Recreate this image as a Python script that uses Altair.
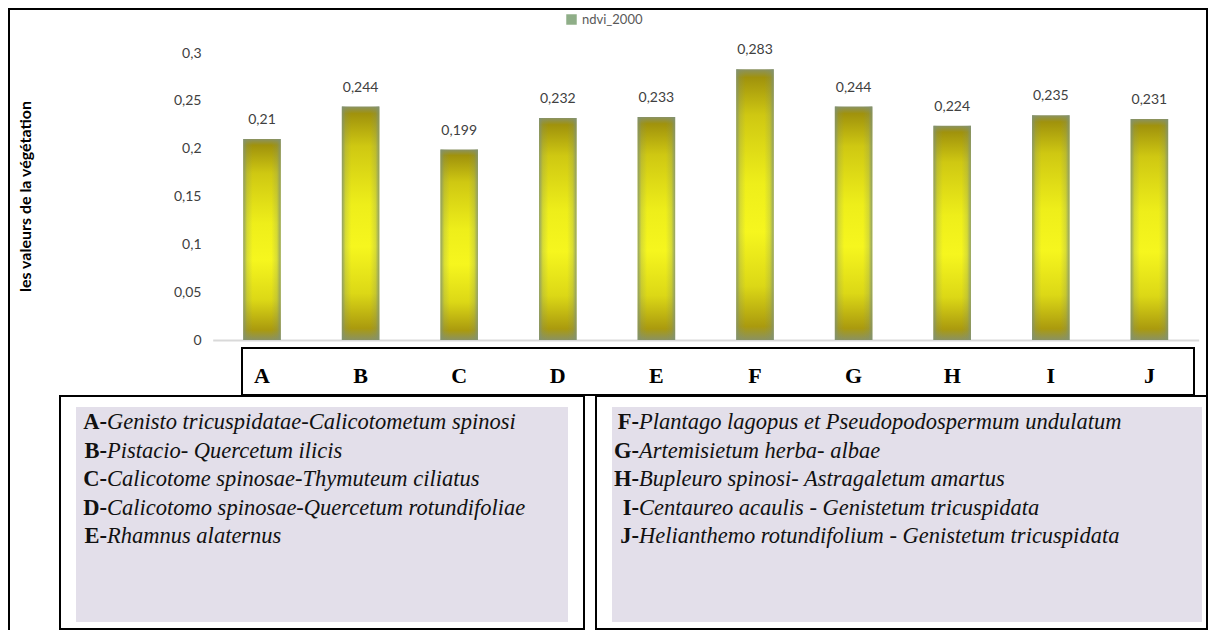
import altair as alt
import pandas as pd

# ---------------- data ----------------
categories = ["A", "B", "C", "D", "E", "F", "G", "H", "I", "J"]
ndvi_2000 = [0.21, 0.244, 0.199, 0.232, 0.233, 0.283, 0.244, 0.224, 0.235, 0.231]
series_name = "ndvi_2000"
y_ticks = [0, 0.05, 0.1, 0.15, 0.2, 0.25, 0.3]
y_title = "les valeurs de la végétation"

left_codes = ["A", "B", "C", "D", "E"]
left_names = [
    "Genisto tricuspidatae-Calicotometum spinosi",
    "Pistacio- Quercetum ilicis",
    "Calicotome spinosae-Thymuteum ciliatus",
    "Calicotomo spinosae-Quercetum rotundifoliae",
    " Rhamnus alaternus",
]
right_codes = ["F", "G", "H", "I", "J"]
right_names = [
    "Plantago lagopus et Pseudopodospermum undulatum",
    "Artemisietum herba- albae",
    "Bupleuro spinosi- Astragaletum amartus",
    "Centaureo acaulis - Genistetum tricuspidata",
    "Helianthemo  rotundifolium - Genistetum tricuspidata",
]

# ---------------- layout / style ----------------
W, H = 1200, 622
X_RANGE = [204.7, 1190.7]
Y_RANGE = [332, 45]
ROWS_RANGE = [414, 528]
SERIF = "Liberation Serif"
SANS = "Lato"

bars_df = pd.DataFrame({"cat": categories, "v": ndvi_2000, "series": series_name})
left_df = pd.DataFrame({"code": left_codes, "name": left_names})
right_df = pd.DataFrame({"code": right_codes, "name": right_names})
one = pd.DataFrame({"d": [0]})

x_axis = alt.Axis(offset=-290, labels=False, ticks=False, grid=False, title=None,
                  domainColor="#d9d9d9", domainWidth=2)
x_enc = alt.X("cat:N", sort=categories,
              scale=alt.Scale(domain=categories, range=X_RANGE, paddingInner=0.62, paddingOuter=0.31),
              axis=x_axis)
y_scale = alt.Scale(domain=[0, 0.3], range=Y_RANGE, nice=False, zero=True)

y_axis = alt.Axis(values=y_ticks, labelExpr="replace(toString(datum.value), '.', ',')",
                  offset=-198, domain=False, ticks=False, grid=False, labelPadding=5,
                  labelFont=SANS, labelFontSize=14, labelColor="#404040",
                  title=y_title, titleX=-181, titleY=188, titleAngle=270,
                  titleAlign="center", titleBaseline="middle",
                  titleFont=SANS, titleFontSize=16, titleFontWeight="bold", titleColor="#000000")


def rect(x, x2, y, y2, **kw):
    return alt.Chart(one).mark_rect(**kw).encode(
        x=alt.value(x), x2=alt.value(x2), y=alt.value(y), y2=alt.value(y2))


outer = rect(1, 1199, 1, 700, fill="transparent", stroke="#000000", strokeWidth=2)
left_shade = rect(68, 560, 399, 614, fill="#e3dfea")
right_shade = rect(604, 1194, 399, 614, fill="#e3dfea")
left_box = rect(52, 576, 388, 621, fill="transparent", stroke="#000000", strokeWidth=2)
right_box = rect(588, 1199, 388, 621, fill="transparent", stroke="#000000", strokeWidth=2)
letter_box = rect(234, 1186, 340, 387, fill="#ffffff", stroke="#000000", strokeWidth=2)

vert_grad = alt.LinearGradient(
    gradient="linear", x1=0, x2=0, y1=0, y2=1,
    stops=[
        alt.GradientStop(color="#8a9262", offset=0),
        alt.GradientStop(color="#a0920c", offset=0.03),
        alt.GradientStop(color="#cfc812", offset=0.17),
        alt.GradientStop(color="#eeee1a", offset=0.42),
        alt.GradientStop(color="#f6f61e", offset=0.6),
        alt.GradientStop(color="#dcd816", offset=0.8),
        alt.GradientStop(color="#aa9a0e", offset=0.95),
        alt.GradientStop(color="#8a9262", offset=1),
    ],
)
horiz_grad = alt.LinearGradient(
    gradient="linear", x1=0, x2=1, y1=0, y2=0,
    stops=[
        alt.GradientStop(color="rgba(128,146,118,0.85)", offset=0),
        alt.GradientStop(color="rgba(128,146,118,0.25)", offset=0.1),
        alt.GradientStop(color="rgba(128,146,118,0)", offset=0.25),
        alt.GradientStop(color="rgba(128,146,118,0)", offset=0.75),
        alt.GradientStop(color="rgba(128,146,118,0.25)", offset=0.9),
        alt.GradientStop(color="rgba(128,146,118,0.85)", offset=1),
    ],
)

base = alt.Chart(bars_df)
bars = base.mark_bar(fill=vert_grad).encode(
    x=x_enc, y=alt.Y("v:Q", scale=y_scale, axis=y_axis))
bars_edge = base.mark_bar(fill=horiz_grad).encode(
    x=x_enc, y=alt.Y("v:Q", scale=y_scale, axis=None))
labels = base.transform_calculate(
    lab="replace(toString(datum.v), '.', ',')"
).mark_text(font=SANS, fontSize=14, color="#404040", baseline="middle", dy=-19).encode(
    x=x_enc, y=alt.Y("v:Q", scale=y_scale, axis=None), text="lab:N")
legend_layer = base.mark_square(opacity=0, size=1).encode(
    x=x_enc, y=alt.Y("v:Q", scale=y_scale, axis=None),
    color=alt.Color("series:N", scale=alt.Scale(domain=[series_name], range=["#8fae88"]),
                    legend=alt.Legend(orient="none", legendX=557, legendY=5, title=None,
                                      symbolType="square", symbolSize=110, symbolOpacity=1,
                                      symbolStrokeWidth=0, labelFont=SANS, labelFontSize=13,
                                      labelColor="#595959", labelOffset=4)))
letters = base.mark_text(font=SERIF, fontSize=22, fontWeight="bold", color="#000000",
                         baseline="middle").encode(
    x=x_enc, y=alt.value(368), text="cat:N")


def panel(df, codes, x_code):
    ys = alt.Y("code:N", scale=alt.Scale(type="point", domain=codes, range=ROWS_RANGE, padding=0),
               axis=None)
    pre = alt.Chart(df).transform_calculate(pre="datum.code + '-'").mark_text(
        font=SERIF, fontSize=22.5, fontWeight="bold", color="#111111", align="right",
        baseline="middle").encode(x=alt.value(x_code), y=ys, text="pre:N")
    nm = alt.Chart(df).mark_text(
        font=SERIF, fontSize=22.5, fontStyle="italic", color="#111111", align="left",
        baseline="middle").encode(x=alt.value(x_code), y=ys, text="name:N")
    return pre + nm


left_text = panel(left_df, left_codes, 99)
right_text = panel(right_df, right_codes, 631)

chart = alt.layer(
    outer, left_shade, right_shade, left_box, right_box, letter_box,
    bars, bars_edge, labels, legend_layer, letters, left_text, right_text,
).resolve_scale(y="independent").properties(
    width=W, height=H, autosize=alt.AutoSizeParams(type="none"), padding=0,
).configure_view(stroke=None)

chart.save("out.html", embed_options={"renderer": "svg", "actions": False})
